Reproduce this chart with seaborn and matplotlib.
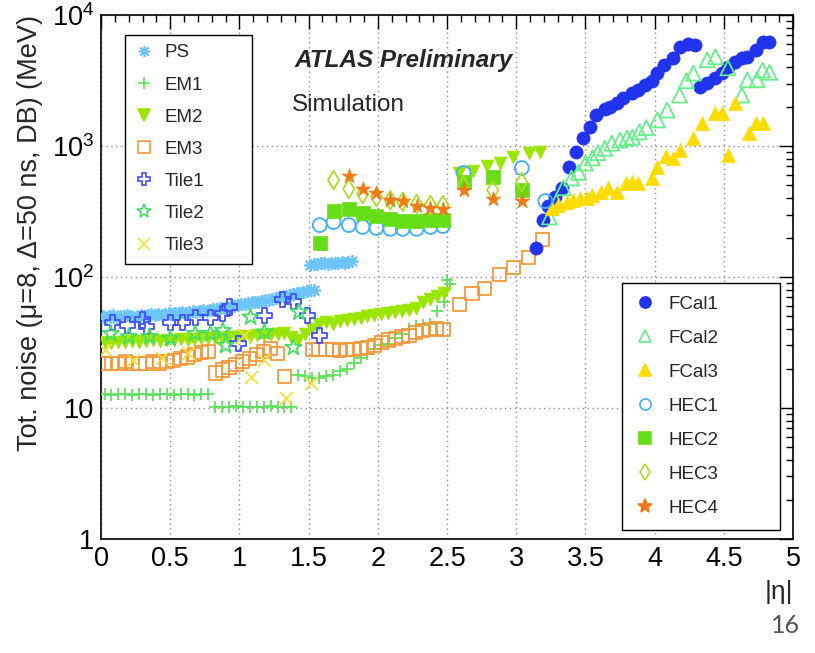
import matplotlib
matplotlib.use("Agg")
import matplotlib.pyplot as plt
from matplotlib.lines import Line2D
from matplotlib.ticker import MultipleLocator, LogLocator, FixedLocator, FixedFormatter, NullFormatter
import seaborn as sns

# ---------------- data: total noise per |eta| bin (MeV) ----------------
ps_eta = [0.0125, 0.0375, 0.0625, 0.0875, 0.1125, 0.1375, 0.1625, 0.1875, 0.2125, 0.2375,
          0.2625, 0.2875, 0.3125, 0.3375, 0.3625, 0.3875, 0.4125, 0.4375, 0.4625, 0.4875,
          0.5125, 0.5375, 0.5625, 0.5875, 0.6125, 0.6375, 0.6625, 0.6875, 0.7125, 0.7375,
          0.7625, 0.7875, 0.8125, 0.8375, 0.8625, 0.8875, 0.9125, 0.9375, 0.9625, 0.9875,
          1.0125, 1.0375, 1.0625, 1.0875, 1.1125, 1.1375, 1.1625, 1.1875, 1.2125, 1.2375,
          1.2625, 1.2875, 1.3125, 1.3375, 1.3625, 1.3875, 1.4125, 1.4375, 1.4625, 1.4875,
          1.5125, 1.5375,
          1.5125, 1.5375, 1.5625, 1.5875, 1.6125, 1.6375, 1.6625, 1.6875, 1.7125, 1.7375,
          1.7625, 1.7875, 1.8125]
ps_val = [50, 49, 50, 51, 49, 50, 50, 51, 50, 49,
          50, 51, 50, 51, 52, 51, 52, 51, 52, 53,
          52, 53, 53, 54, 53, 54, 55, 54, 55, 56,
          55, 56, 57, 57, 58, 58, 59, 60, 60, 61,
          62, 62, 63, 64, 64, 65, 66, 67, 67, 68,
          69, 70, 71, 72, 73, 74, 75, 76, 77, 78,
          79, 80,
          124, 126, 125, 127, 128, 126, 127, 129, 128, 130,
          129, 131, 132]

em1_eta = [0.025, 0.075, 0.125, 0.175, 0.225, 0.275, 0.325, 0.375, 0.425, 0.475,
           0.525, 0.575, 0.625, 0.675, 0.725, 0.775,
           0.825, 0.875, 0.925, 0.975, 1.025, 1.075, 1.125, 1.175, 1.225, 1.275,
           1.325, 1.375,
           1.425, 1.475, 1.525, 1.575, 1.625, 1.675, 1.725, 1.775, 1.825, 1.875,
           1.925, 1.975, 2.025, 2.075, 2.125, 2.175, 2.225, 2.275, 2.325, 2.375,
           2.425, 2.475, 2.5, 2.52]
em1_val = [12.8, 12.6, 12.8, 12.7, 12.6, 12.8, 12.7, 12.6, 12.8, 12.7,
           12.6, 12.8, 12.7, 12.6, 12.8, 12.7,
           10.2, 10.1, 10.2, 10.3, 10.2, 10.1, 10.2, 10.2, 10.3, 10.2,
           10.1, 10.2,
           18, 17.5, 17, 17, 17.5, 18, 19, 20, 22, 24,
           26, 28, 30, 31, 34, 37, 40, 42, 43, 44,
           55, 64, 95, 88]

em2_eta = [0.025, 0.075, 0.125, 0.175, 0.225, 0.275, 0.325, 0.375, 0.425, 0.475,
           0.525, 0.575, 0.625, 0.675, 0.725, 0.775, 0.825, 0.875, 0.925, 0.975,
           1.025, 1.075, 1.125, 1.175, 1.225, 1.275, 1.325, 1.375, 1.425, 1.475,
           1.525, 1.575, 1.625, 1.675, 1.725, 1.775, 1.825, 1.875, 1.925, 1.975,
           2.025, 2.075, 2.125, 2.175, 2.225, 2.275, 2.325, 2.375, 2.425, 2.475,
           2.59, 2.69, 2.79, 2.88, 2.98, 3.09, 3.17]
em2_val = [32, 31.5, 32, 32, 32.5, 32, 32.5, 33, 32.5, 33,
           33, 33.5, 33, 33.5, 34, 34, 34.5, 34, 35, 35,
           35.5, 35, 36, 36, 36.5, 37, 37.5, 35, 33, 37,
           40, 44, 45, 44, 46, 47, 48, 49, 50, 51,
           52, 53, 54, 55, 56, 58, 64, 68, 72, 75,
           620, 650, 700, 740, 820, 880, 900]

em3_eta = [0.025, 0.075, 0.125, 0.175, 0.225, 0.275, 0.325, 0.375, 0.425, 0.475,
           0.525, 0.575, 0.625, 0.675, 0.725, 0.775,
           0.825, 0.875, 0.925, 0.975, 1.025, 1.075, 1.125, 1.175, 1.225, 1.275, 1.325,
           1.525, 1.575, 1.625, 1.675, 1.725, 1.775, 1.825, 1.875, 1.925, 1.975,
           2.025, 2.075, 2.125, 2.175, 2.225, 2.275, 2.325, 2.375, 2.425, 2.475,
           2.59, 2.68, 2.77, 2.88, 2.98, 3.09, 3.19]
em3_val = [22, 22, 22, 22.5, 22, 22, 22, 22.5, 22, 22.5,
           23, 24, 24.5, 25.5, 26.5, 27,
           18.5, 19.5, 20.5, 21.5, 22.5, 24, 25.5, 27, 28.5, 26, 17.5,
           28, 28, 28, 28, 27.5, 28, 28, 28.5, 29, 30,
           31.5, 33, 34, 35, 36, 37.5, 39, 40, 40.5, 40,
           62, 75, 82, 104, 119, 140, 192]

tile1_eta = [0.08, 0.19, 0.30, 0.33, 0.50, 0.59, 0.68, 0.79, 0.88, 0.93,
             0.99, 1.18, 1.31, 1.39, 1.49, 1.58]
tile1_val = [45, 43, 47, 42, 45, 45, 49, 49, 53, 59,
             31, 51, 67, 65, 51, 36]

tile2_eta = [0.07, 0.20, 0.35, 0.50, 0.68, 0.79, 0.88, 0.90, 1.08, 1.18, 1.39, 1.43]
tile2_val = [37, 35, 35, 34, 37, 37, 39, 30, 49.5, 38, 29, 54]

tile3_eta = [0.03, 0.23, 0.44, 0.63, 1.03, 1.08, 1.18, 1.34, 1.52]
tile3_val = [27.7, 23.2, 24.0, 26.2, 36, 17.2, 23.2, 11.9, 15.5]

fcal1_eta = [3.14, 3.19, 3.23, 3.28, 3.33, 3.38, 3.43, 3.48, 3.53, 3.58,
             3.64, 3.68, 3.73, 3.77, 3.84, 3.88, 3.93, 3.98, 4.02, 4.07,
             4.13, 4.18, 4.24, 4.29,
             4.33, 4.38, 4.44, 4.49, 4.53, 4.58, 4.63, 4.67, 4.73, 4.78, 4.83]
fcal1_val = [166, 272, 350, 410, 480, 690, 900, 1150, 1390, 1740,
             1900, 2000, 2140, 2330, 2550, 2700, 2900, 3150, 3600, 4170,
             4700, 5700, 6000, 5900,
             2840, 3050, 3330, 3600, 4000, 4400, 4700, 4800, 5400, 6200, 6200]

fcal2_eta = [3.24, 3.29, 3.34, 3.40, 3.45, 3.50, 3.55, 3.59, 3.64, 3.69,
             3.75, 3.80, 3.84, 3.89, 3.94, 4.02, 4.09, 4.18, 4.23, 4.28,
             4.38, 4.44, 4.53, 4.63, 4.67, 4.74, 4.78, 4.83]
fcal2_val = [287, 375, 480, 570, 630, 740, 810, 890, 960, 1050,
             1110, 1150, 1170, 1280, 1380, 1580, 1880, 2450, 3150, 3600,
             4550, 4800, 3950, 2450, 3200, 3200, 3800, 3650]

fcal3_eta = [3.26, 3.30, 3.37, 3.41, 3.46, 3.51, 3.55, 3.61, 3.66, 3.73,
             3.79, 3.84, 3.88, 3.98, 4.02, 4.08, 4.13, 4.18, 4.28, 4.34,
             4.44, 4.49, 4.53, 4.58, 4.68, 4.73, 4.78]
fcal3_val = [336, 355, 375, 390, 400, 400, 425, 445, 480, 445,
             520, 530, 520, 570, 690, 840, 815, 930, 1150, 1500,
             1800, 1800, 850, 2130, 1250, 1500, 1500]

hec1_eta = [1.58, 1.68, 1.79, 1.89, 1.99, 2.09, 2.18, 2.28, 2.38, 2.47, 2.62, 3.04, 3.21]
hec1_val = [249, 263, 249, 241, 237, 233, 233, 233, 241, 245, 622, 679, 380]

hec2_eta = [1.58, 1.68, 1.79, 1.89, 1.99, 2.09, 2.18, 2.28, 2.38, 2.47, 2.62, 2.83, 3.04]
hec2_val = [182, 319, 333, 306, 292, 277, 267, 267, 272, 272, 531, 580, 461]

hec3_eta = [1.68, 1.79, 1.89, 1.99, 2.09, 2.18, 2.28, 2.38, 2.47, 2.62, 2.83, 3.04]
hec3_val = [550, 470, 430, 408, 385, 375, 360, 355, 354, 500, 461, 531]

hec4_eta = [1.79, 1.89, 1.99, 2.09, 2.18, 2.28, 2.38, 2.47, 2.62, 2.83, 3.04]
hec4_val = [590, 470, 438, 387, 380, 349, 337, 330, 461, 395, 380]

# name, eta, value, marker, colour, open?, marker area
series = [
    ("PS",    ps_eta,    ps_val,    (8, 2, 0), "#6cc4ff", False, 70),
    ("EM1",   em1_eta,   em1_val,   "+",       "#5fe05f", False, 85),
    ("EM2",   em2_eta,   em2_val,   "v",       "#9be600", False, 85),
    ("EM3",   em3_eta,   em3_val,   "s",       "#f29a3a", True,  90),
    ("Tile1", tile1_eta, tile1_val, "P",       "#4050ff", True,  120),
    ("Tile2", tile2_eta, tile2_val, "*",       "#45dd66", True,  150),
    ("Tile3", tile3_eta, tile3_val, "x",       "#f5e03a", False, 85),
    ("FCal1", fcal1_eta, fcal1_val, "o",       "#2233ee", False, 90),
    ("FCal2", fcal2_eta, fcal2_val, "^",       "#66ee88", True,  115),
    ("FCal3", fcal3_eta, fcal3_val, "^",       "#ffdc00", False, 100),
    ("HEC1",  hec1_eta,  hec1_val,  "o",       "#3cb0ff", True,  100),
    ("HEC2",  hec2_eta,  hec2_val,  "s",       "#66dd16", False, 90),
    ("HEC3",  hec3_eta,  hec3_val,  "d",       "#aadd22", True,  90),
    ("HEC4",  hec4_eta,  hec4_val,  "*",       "#f07a18", False, 125),
]

sns.set_theme(style="white")
plt.rcParams["font.family"] = ["Liberation Sans", "DejaVu Sans"]
plt.rcParams["mathtext.fontset"] = "custom"
plt.rcParams["mathtext.rm"] = "Liberation Sans"
plt.rcParams["mathtext.it"] = "Liberation Sans:italic"
plt.rcParams["mathtext.bf"] = "Liberation Sans:bold"

fig = plt.figure(figsize=(8.15, 6.53), dpi=100)
ax = fig.add_axes([0.124, 0.1746, 0.849, 0.8024])

handles = []
for i, (name, eta, val, marker, color, hollow, size) in enumerate(series):
    kw = dict(x=eta, y=val, marker=marker, s=size, ax=ax, legend=False, zorder=3 + i)
    if hollow:
        kw.update(facecolor="none", edgecolor=color, linewidth=1.3)
    elif marker in ("+", "x") or isinstance(marker, tuple):
        kw.update(color=color, linewidth=1.3)
    else:
        kw.update(color=color, edgecolor=color, linewidth=0.5)
    sns.scatterplot(**kw)
    handles.append(Line2D([], [], linestyle="", marker=marker, color=color,
                          markerfacecolor="none" if hollow else color,
                          markeredgecolor=color, markersize=8 if marker != "*" else 10,
                          markeredgewidth=1.2, label=name))

ax.set_yscale("log")
ax.set_xlim(0, 5)
ax.set_ylim(1, 1e4)

ax.xaxis.set_major_locator(MultipleLocator(0.5))
ax.xaxis.set_minor_locator(MultipleLocator(0.1))
ax.xaxis.set_major_formatter(plt.FuncFormatter(lambda v, p: f"{v:g}"))
ax.yaxis.set_major_locator(FixedLocator([1, 10, 100, 1000, 10000]))
ax.yaxis.set_major_formatter(FixedFormatter(["1", "10", "$10^{2}$", "$10^{3}$", "$10^{4}$"]))
ax.yaxis.set_minor_locator(LogLocator(base=10, subs=range(2, 10)))
ax.yaxis.set_minor_formatter(NullFormatter())

ax.tick_params(which="both", direction="in", top=True, right=True, colors="black",
               labelsize=19.5, width=1)
ax.tick_params(which="major", length=10, pad=5)
ax.tick_params(which="minor", length=5)

ax.grid(True, which="major", color="#8a8a8a", linestyle=(0, (1, 2.5)), linewidth=1)
for sp in ax.spines.values():
    sp.set_color("black")
    sp.set_linewidth(1.2)

ax.set_xlabel("|η|", loc="right", fontsize=19, labelpad=6)
ax.set_ylabel("Tot. noise (μ=8, Δ=50 ns, DB) (MeV)", loc="top", fontsize=19.5, labelpad=6)

ax.text(0.28, 0.914, "ATLAS Preliminary", transform=ax.transAxes, fontsize=17.5,
        fontweight="bold", fontstyle="italic", va="center", ha="left")
ax.text(0.276, 0.828, "Simulation", transform=ax.transAxes, fontsize=17.5,
        va="center", ha="left")

leg1 = ax.legend(handles=handles[:7], loc="upper left",
                 bbox_to_anchor=(0.035, 0.523, 0.183, 0.439), mode="expand",
                 fontsize=13.5, frameon=True, fancybox=False, edgecolor="black",
                 framealpha=1, labelspacing=0.8, handlelength=1.0, handletextpad=0.6,
                 borderpad=0.5, borderaxespad=0)
leg1.get_frame().set_linewidth(1.0)
leg1.set_zorder(30)
ax.add_artist(leg1)
leg2 = ax.legend(handles=handles[7:], loc="lower left",
                 bbox_to_anchor=(0.753, 0.017, 0.228, 0.468), mode="expand",
                 fontsize=13.5, frameon=True, fancybox=False, edgecolor="black",
                 framealpha=1, labelspacing=0.9, handlelength=1.0, handletextpad=0.8,
                 borderpad=0.7, borderaxespad=0)
leg2.get_frame().set_linewidth(1.0)
leg2.set_zorder(30)

fig.text(0.982, 0.025, "16", ha="right", va="bottom", fontsize=18, color="#555555",
         family=["Lato", "DejaVu Sans"])

fig.savefig("out.png", dpi=100)
